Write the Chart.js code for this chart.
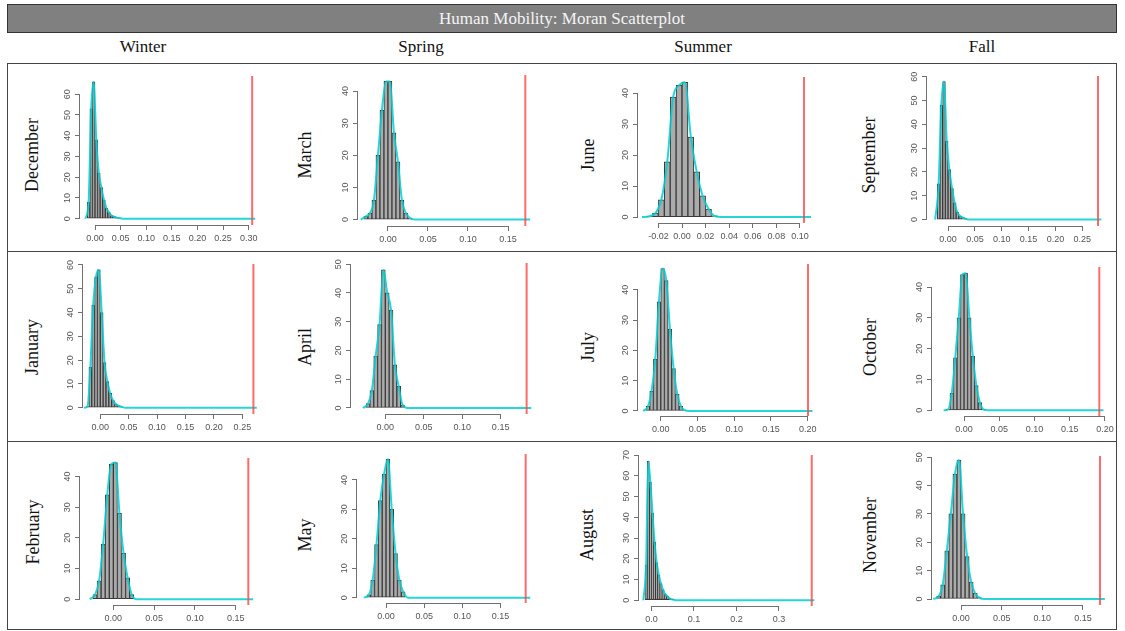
<!DOCTYPE html>
<html>
<head>
<meta charset="utf-8">
<script src="https://cdn.jsdelivr.net/npm/chart.js@4.4.1/dist/chart.umd.min.js"></script>
<style>
  html, body { margin: 0; padding: 0; background: #fff; overflow: hidden; }
  #hoja { position: relative; width: 1125px; height: 631px; font-family: 'Liberation Serif', 'DejaVu Serif', serif; color: #111; }
  #titulo { position: absolute; left: 7px; top: 4px; width: 1110px; height: 29px; box-sizing: border-box;
            background: #808080; border: 1px solid #333; color: #f4f4f4; font-size: 17px; line-height: 27px; text-align: center; }
  .estacion { position: absolute; top: 37px; width: 200px; margin-left: -100px; text-align: center; font-size: 17px; }
  #marco { position: absolute; left: 7px; top: 63px; width: 1110px; height: 567px; box-sizing: border-box; border: 1.5px solid #444; }
  .sep { position: absolute; left: 7px; width: 1110px; height: 0; border-top: 1.5px solid #444; }
  .mes { position: absolute; font-size: 18px; white-space: nowrap; transform: translate(-50%, -50%) rotate(-90deg); }
  canvas { position: absolute; }
</style>
</head>
<body>
<div id="hoja">
  <div id="titulo">Human Mobility: Moran Scatterplot</div>
  <div id="marco"></div>
  <div class="sep" style="top:251px"></div>
  <div class="sep" style="top:441px"></div>
</div>
<script>
// Cabeceras y etiquetas de cada panel (orden: filas de arriba a abajo)
const estaciones = ['Winter', 'Spring', 'Summer', 'Fall'];
const meses = ['December', 'March', 'June', 'September',
               'January', 'April', 'July', 'October',
               'February', 'May', 'August', 'November'];

// Histogramas de la I de Moran simulada (densidad por intervalo de 0.005)
const anchoBin = 0.005;
const inicioBin = [-0.015, -0.03, -0.03, -0.02, -0.025, -0.025, -0.02, -0.025, -0.025, -0.025, -0.015, -0.03];
const densDic = [8, 53, 66, 38, 22, 15, 9, 5, 3, 1.5, 1, 0.5, 0.3];
const densMar = [1, 2, 6, 20, 34, 43, 43, 27, 18, 6, 2, 0.5];
const densJun = [0.3, 1.3, 5.6, 17.8, 38.7, 42.5, 43.5, 25.8, 14.6, 6.9, 2.6, 0.4];
const densSep = [15, 48, 58, 33, 21, 13, 7, 3, 1.5, 0.8, 0.4];
const densEne = [0.5, 17, 43, 55, 58, 40, 19, 11, 6, 3, 1.5, 0.8, 0.4];
const densAbr = [1.5, 6, 18, 29, 48, 40, 34, 15, 7.5, 1];
const densJul = [1.5, 6.5, 17, 36, 47, 43, 27, 14, 5.5, 1.5, 0.3];
const densOct = [0.3, 5.5, 17, 30, 44, 44.5, 30, 17.5, 8, 2.5, 0.3];
const densFeb = [1.5, 6, 18, 34, 44, 44.5, 28, 15, 7, 1.5];
const densMay = [1, 6, 18, 33, 42, 47, 30, 15, 6, 2];
const densAgo = [17, 67, 57, 42, 28, 18, 12, 8, 5, 3, 2, 1, 0.5, 0.3];
const densNov = [1, 5, 17, 30, 44, 49, 30, 15, 6, 2, 0.5];
const densidades = [densDic, densMar, densJun, densSep, densEne, densAbr, densJul, densOct, densFeb, densMay, densAgo, densNov];

// I de Moran observada (linea roja)
const observado = [0.3067, 0.1716, 0.1034, 0.2793, 0.2694, 0.1838, 0.2005, 0.1920, 0.1655, 0.1829, 0.3771, 0.1710];

// Etiquetas de los ejes
const ticksX = [
  ['0.00', '0.05', '0.10', '0.15', '0.20', '0.25', '0.30'],
  ['0.00', '0.05', '0.10', '0.15'],
  ['-0.02', '0.00', '0.02', '0.04', '0.06', '0.08', '0.10'],
  ['0.00', '0.05', '0.10', '0.15', '0.20', '0.25'],
  ['0.00', '0.05', '0.10', '0.15', '0.20', '0.25'],
  ['0.00', '0.05', '0.10', '0.15'],
  ['0.00', '0.05', '0.10', '0.15', '0.20'],
  ['0.00', '0.05', '0.10', '0.15', '0.20'],
  ['0.00', '0.05', '0.10', '0.15'],
  ['0.00', '0.05', '0.10', '0.15'],
  ['0.0', '0.1', '0.2', '0.3'],
  ['0.00', '0.05', '0.10', '0.15']
];
const y40 = ['0', '10', '20', '30', '40'];
const y50 = ['0', '10', '20', '30', '40', '50'];
const y60 = ['0', '10', '20', '30', '40', '50', '60'];
const y70 = ['0', '10', '20', '30', '40', '50', '60', '70'];
const ticksY = [y60, y40, y40, y60, y60, y50, y40, y40, y40, y40, y70, y50];

// Rangos de los ejes (como en R, con 4% extra)
const limX = [[-0.0293, 0.322], [-0.0374, 0.1837], [-0.0373, 0.1102], [-0.0392, 0.2942],
              [-0.0304, 0.281], [-0.0446, 0.1934], [-0.031, 0.21], [-0.0455, 0.2015],
              [-0.0409, 0.1737], [-0.038, 0.1925], [-0.0292, 0.3895], [-0.0357, 0.1784]];
const limY = [[-3.04, 68.8], [-2.0, 45.0], [-1.9, 45.2], [-2.7, 60.3],
              [-2.64, 60.4], [-2.1, 50.4], [-1.66, 48.5], [-1.85, 46.5],
              [-1.86, 46], [-1.8, 48.8], [-2.75, 70], [-2.1, 50.4]];

// Posicion de cada area de dibujo en la pagina: [izq, arriba, der, abajo]
const cajas = [
  [80, 76, 260, 225], [358, 75, 535, 226], [638, 77, 812, 223], [927, 76, 1106, 226],
  [83, 264, 260, 414], [351, 263, 534, 414], [638, 264, 815, 416], [932, 267, 1106, 416],
  [80, 458, 255, 605], [357, 454, 533, 603], [639, 455, 817, 606], [932, 456, 1106, 605]
];
const centrosCol = [143, 421, 703, 982];
const posMes = [[32, 155], [305, 155], [588, 155], [869, 155],
                [32, 347], [305, 347], [588, 347], [870, 347],
                [33, 532], [305, 535], [587, 535], [870, 535]];

const hoja = document.getElementById('hoja');

estaciones.forEach((e, i) => {
    const d = document.createElement('div');
    d.className = 'estacion';
    d.style.left = centrosCol[i] + 'px';
    d.textContent = e;
    hoja.appendChild(d);
});

// Ejes al estilo R: linea solo entre el primer y el ultimo tick, etiquetas Y giradas
const ejesR = {
    id: 'ejesR',
    afterDraw(chart) {
        const { ctx, chartArea, scales: { x, y } } = chart;
        ctx.save();
        ctx.strokeStyle = '#707070';
        ctx.lineWidth = 1;
        ctx.beginPath();
        const xa = x.getPixelForTick(0), xb = x.getPixelForTick(x.ticks.length - 1);
        ctx.moveTo(xa, Math.round(chartArea.bottom) + 0.5);
        ctx.lineTo(xb, Math.round(chartArea.bottom) + 0.5);
        const ya = y.getPixelForTick(0), yb = y.getPixelForTick(y.ticks.length - 1);
        ctx.moveTo(Math.round(chartArea.left) - 0.5, ya);
        ctx.lineTo(Math.round(chartArea.left) - 0.5, yb);
        ctx.stroke();

        ctx.fillStyle = '#555';
        ctx.font = '9px "Liberation Sans", Arial, sans-serif';
        ctx.textAlign = 'center';
        ctx.textBaseline = 'middle';
        y.ticks.forEach((t, i) => {
            ctx.save();
            ctx.translate(chartArea.left - 12, y.getPixelForTick(i));
            ctx.rotate(-Math.PI / 2);
            ctx.fillText(t.label, 0, 0);
            ctx.restore();
        });
        ctx.restore();
    }
};

meses.forEach((mes, k) => {
    const [L, T, R, B] = cajas[k];

    // Etiqueta del mes
    const et = document.createElement('div');
    et.className = 'mes';
    et.style.left = posMes[k][0] + 'px';
    et.style.top = posMes[k][1] + 'px';
    et.textContent = mes;
    hoja.appendChild(et);

    // Canvas del panel
    const cv = document.createElement('canvas');
    cv.width = R - L + 52;
    cv.height = B - T + 36;
    cv.style.left = (L - 40) + 'px';
    cv.style.top = (T - 6) + 'px';
    hoja.appendChild(cv);

    const ini = inicioBin[k];
    const dens = densidades[k];
    const barras = dens.map((v, i) => ({ x: ini + (i + 0.5) * anchoBin, y: v }));
    const fin = ini + dens.length * anchoBin;
    // Curva de densidad: pasa por los centros y se apoya en cero hasta el valor observado
    const curva = [{ x: ini - 0.004, y: 0 }, ...barras, { x: fin + 0.004, y: 0 }, { x: observado[k] + 0.006, y: 0 }];
    const lineaObs = [{ x: observado[k], y: limY[k][0] }, { x: observado[k], y: limY[k][1] }];

    new Chart(cv, {
        type: 'bar',
        data: {
            datasets: [
                {
                    type: 'line',
                    data: lineaObs,
                    borderColor: 'rgba(255, 70, 70, 0.8)',
                    borderWidth: 2,
                    pointRadius: 0,
                    order: 1
                },
                {
                    type: 'line',
                    data: curva,
                    borderColor: 'rgba(0, 206, 209, 0.85)',
                    borderWidth: 2,
                    pointRadius: 0,
                    cubicInterpolationMode: 'monotone',
                    fill: false,
                    order: 2
                },
                {
                    type: 'bar',
                    data: barras,
                    backgroundColor: '#ababab',
                    borderColor: '#3a3a3a',
                    borderWidth: 1,
                    borderSkipped: false,
                    barPercentage: 1,
                    categoryPercentage: 1,
                    order: 3
                }
            ]
        },
        options: {
            responsive: false,
            animation: false,
            layout: { padding: { left: 0, top: 6, right: 12, bottom: 0 } },
            plugins: { legend: { display: false }, tooltip: { enabled: false } },
            scales: {
                x: {
                    type: 'linear',
                    min: limX[k][0],
                    max: limX[k][1],
                    offset: false,
                    afterBuildTicks: s => { s.ticks = ticksX[k].map(v => ({ value: parseFloat(v) })); },
                    afterFit: s => { s.height = 30; s.paddingLeft = 0; s.paddingRight = 0; },
                    border: { display: false },
                    grid: { offset: false, drawOnChartArea: false, drawTicks: true, tickLength: 5, color: '#707070' },
                    ticks: {
                        autoSkip: false, maxRotation: 0, padding: 3, color: '#555',
                        font: { family: '"Liberation Sans", Arial, sans-serif', size: 9 },
                        callback: (v, i) => ticksX[k][i]
                    }
                },
                y: {
                    min: limY[k][0],
                    max: limY[k][1],
                    afterBuildTicks: s => { s.ticks = ticksY[k].map(v => ({ value: parseFloat(v) })); },
                    afterFit: s => { s.width = 40; s.paddingTop = 0; s.paddingBottom = 0; },
                    border: { display: false },
                    grid: { drawOnChartArea: false, drawTicks: true, tickLength: 5, color: '#707070' },
                    ticks: { display: false, callback: (v, i) => ticksY[k][i] }
                }
            }
        },
        plugins: [ejesR]
    });
});
</script>
</body>
</html>
